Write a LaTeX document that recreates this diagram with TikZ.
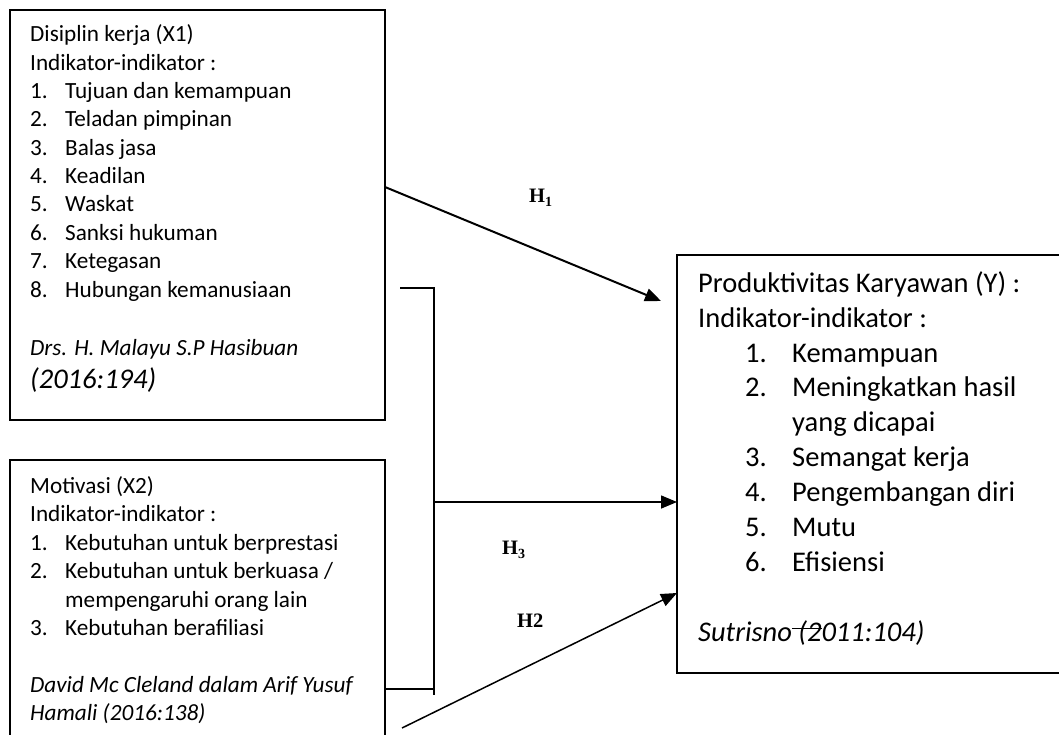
\documentclass[tikz,border=0pt]{standalone}
\usepackage{fontspec}
\setmainfont{Carlito}
\newfontfamily\hfont{Liberation Serif}
\usetikzlibrary{arrows.meta}
\tikzset{
  box/.style={draw, line width=1.5pt, inner sep=0pt, outer sep=0pt, anchor=north west},
  txa/.style={anchor=base west, inner sep=0pt, font=\fontsize{23.2}{28.3}\selectfont},
  txb/.style={anchor=base west, inner sep=0pt, font=\fontsize{28.5}{34.8}\selectfont},
  hl/.style={anchor=base west, inner sep=0pt, font=\hfont\bfseries\fontsize{20.5}{24}\selectfont},
  ln/.style={line width=1.5pt},
  arr/.style={line width=1.5pt, -{Triangle[length=16pt,width=13pt]}},
}
\newcommand\numa[1]{\makebox[35pt][l]{#1}}
\newcommand\numb[1]{\makebox[47pt][l]{#1}}
\newcommand\hsub[1]{\raisebox{-4pt}{\fontsize{14}{14}\selectfont #1}}
\begin{document}
\begin{tikzpicture}[x=1pt,y=-1pt]
\useasboundingbox (0,0) rectangle (1059,735);
% boxes
\node[box, minimum width=375pt, minimum height=410pt] (x1) at (10,10) {};
\node[box, minimum width=375pt, minimum height=300pt] (x2) at (10,460) {};
\node[box, minimum width=400pt, minimum height=418pt] (y) at (677,255) {};
% box 1 text
\node[txa] (a1) at (30,42) {Disiplin kerja (X1)};
\node[txa] (a2) at (30,70.3) {Indikator-indikator :};
\node[txa] (a3) at (30,98.6) {\numa{1.}Tujuan dan kemampuan};
\node[txa] (a4) at (30,127) {\numa{2.}Teladan pimpinan};
\node[txa] (a5) at (30,155.3) {\numa{3.}Balas jasa};
\node[txa] (a6) at (30,183.6) {\numa{4.}Keadilan};
\node[txa] (a7) at (30,212) {\numa{5.}Waskat};
\node[txa] (a8) at (30,240.3) {\numa{6.}Sanksi hukuman};
\node[txa] (a9) at (30,268.6) {\numa{7.}Ketegasan};
\node[txa] (a10) at (30,297) {\numa{8.}Hubungan kemanusiaan};
\node[txa] (a11) at (30,355) {\itshape Drs. H. Malayu S.P Hasibuan};
\node[txb] (a12) at (30,388) {\itshape (2016:194)};
% box 2 text
\node[txa] (b1) at (30,493) {Motivasi (X2)};
\node[txa] (b2) at (30,521.5) {Indikator-indikator :};
\node[txa] (b3) at (30,550) {\numa{1.}Kebutuhan untuk berprestasi};
\node[txa] (b4) at (30,578.5) {\numa{2.}Kebutuhan untuk berkuasa /};
\node[txa] (b5) at (65,607) {mempengaruhi orang lain};
\node[txa] (b6) at (30,635.5) {\numa{3.}Kebutuhan berafiliasi};
\node[txa] (b7) at (30,692) {\itshape David Mc Cleland dalam Arif Yusuf};
\node[txa] (b8) at (30,720) {\itshape Hamali (2016:138)};
% box 3 text
\node[txb] (c1) at (698,292) {Produktivitas Karyawan (Y) :};
\node[txb] (c2) at (698,327) {Indikator-indikator :};
\node[txb] (c3) at (745,362) {\numb{1.}Kemampuan};
\node[txb] (c4) at (745,396.5) {\numb{2.}Meningkatkan hasil};
\node[txb] (c5) at (792,431) {yang dicapai};
\node[txb] (c6) at (745,466) {\numb{3.}Semangat kerja};
\node[txb] (c7) at (745,501) {\numb{4.}Pengembangan diri};
\node[txb] (c8) at (745,536) {\numb{5.}Mutu};
\node[txb] (c9) at (745,571) {\numb{6.}Efisiensi};
\node[txb] (c10) at (698,641) {\itshape Sutrisno\rlap{\rule[0.42em]{1.05em}{0.9pt}} (2011:104)};
% labels
\node[hl] (h1) at (529,203) {H\hsub{1}};
\node[hl] (h3) at (502,554) {H\hsub{3}};
\node[hl] (h2) at (517,627) {H2};
% connector coordinates
\coordinate (h1s) at (385,187);
\coordinate (h1e) at (661,301);
\coordinate (btop) at (400,288);
\coordinate (bbot) at (434,695);
\coordinate (bh) at (435,689);
\coordinate (mid) at (434,502);
\coordinate (h2s) at (402,728);
\coordinate (h2e) at (677,593);
% connectors
\draw[arr, line width=2pt] (x1.east |- h1s) -- (h1e);
\draw[ln] (btop) -| (bbot);
\draw[ln] (x2.east |- bh) -- (bh);
\draw[arr] (mid) -- (y.west |- mid);
\draw[arr] (h2s) -- (y.west |- h2e);
\end{tikzpicture}
\end{document}
